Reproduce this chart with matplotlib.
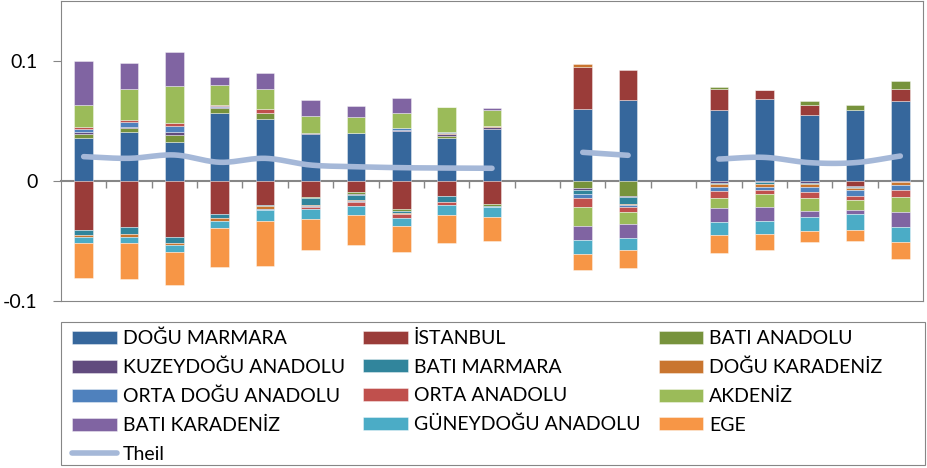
import numpy as np
import matplotlib
matplotlib.use("Agg")
import matplotlib.pyplot as plt
from matplotlib.lines import Line2D
from matplotlib.patches import Rectangle

plt.rcParams['font.family'] = ['Lato', 'DejaVu Sans']

categories = ["1", "2", "3", "4", "5", "6", "7", "8", "9", "10", "",
              "11", "12", "", "13", "14", "15", "16", "17"]

series_names = ["DOĞU MARMARA", "İSTANBUL", "BATI ANADOLU", "KUZEYDOĞU ANADOLU",
                "BATI MARMARA", "DOĞU KARADENİZ", "ORTA DOĞU ANADOLU", "ORTA ANADOLU",
                "AKDENİZ", "BATI KARADENİZ", "GÜNEYDOĞU ANADOLU", "EGE"]
series_colors = ["#36679C", "#9A3C39", "#77933C", "#614B7E", "#31859C", "#C9752F",
                 "#4F81BD", "#C0504D", "#9BBB59", "#8064A2", "#4BACC6", "#F79646"]

dogu_marmara = [0.0356, 0.0411, 0.0328, 0.0569, 0.0517, 0.0392, 0.0397, 0.0417, 0.0361, 0.0436, None,
                0.0597, 0.0675, None, 0.0592, 0.0680, 0.0547, 0.0589, 0.0669]
istanbul = [-0.0408, -0.0386, -0.0469, -0.0278, -0.0200, -0.0136, -0.0092, -0.0236, -0.0125, -0.0192, None,
            0.0350, 0.0250, None, 0.0175, 0.0078, 0.0089, -0.0039, 0.0094]
bati_anadolu = [0.0039, 0.0028, 0.0056, 0.0036, 0.0047, -0.0005, -0.0019, -0.0010, 0.0014, -0.0014, None,
                -0.0061, -0.0125, None, 0.0014, 0.0, 0.0028, 0.0047, 0.0072]
kuzeydogu_anadolu = [0.0014, 0.0010, 0.0022, 0.0010, 0.0005, 0.0006, -0.0003, 0.0011, 0.0017, 0.0010, None,
                     -0.0014, -0.0005, None, -0.0014, -0.0005, -0.0014, -0.0010, -0.0005]
bati_marmara = [-0.0042, -0.0056, -0.0044, -0.0033, -0.0005, -0.0056, -0.0042, -0.0020, -0.0047, -0.0008, None,
                -0.0030, -0.0061, None, -0.0014, -0.0019, -0.0010, -0.0008, -0.0005]
dogu_karadeniz = [-0.0019, -0.0025, -0.0019, -0.0022, -0.0030, -0.0010, -0.0010, -0.0005, 0.0009, 0.0010, None,
                  0.0028, -0.0008, None, -0.0025, -0.0022, -0.0028, -0.0018, -0.0025]
orta_dogu_anadolu = [0.0025, 0.0045, 0.0056, 0.0010, -0.0010, -0.0010, -0.0005, 0.0011, 0.0008, 0.0005, None,
                     -0.0035, -0.0015, None, -0.0033, -0.0028, -0.0042, -0.0047, -0.0036]
orta_anadolu = [0.0012, 0.0017, 0.0019, 0.0012, 0.0028, -0.0020, -0.0036, -0.0036, -0.0028, -0.0006, None,
                -0.0080, -0.0047, None, -0.0056, -0.0033, -0.0044, -0.0039, -0.0061]
akdeniz = [0.0189, 0.0256, 0.0311, 0.0167, 0.0167, 0.0144, 0.0133, 0.0131, 0.0211, 0.0128, None,
           -0.0158, -0.0100, None, -0.0083, -0.0106, -0.0108, -0.0083, -0.0128]
bati_karadeniz = [0.0367, 0.0217, 0.0283, 0.0064, 0.0139, 0.0133, 0.0097, 0.0119, 0.0, 0.0017, None,
                  -0.0111, -0.0111, None, -0.0114, -0.0122, -0.0050, -0.0030, -0.0122]
guneydogu_anadolu = [-0.0050, -0.0053, -0.0056, -0.0061, -0.0092, -0.0078, -0.0078, -0.0072, -0.0083, -0.0083, None,
                     -0.0117, -0.0106, None, -0.0111, -0.0106, -0.0117, -0.0133, -0.0125]
ege = [-0.0286, -0.0294, -0.0278, -0.0319, -0.0375, -0.0256, -0.0250, -0.0211, -0.0236, -0.0200, None,
       -0.0136, -0.0144, None, -0.0153, -0.0133, -0.0097, -0.0092, -0.0139]
theil = [0.0203, 0.0189, 0.0217, 0.0156, 0.0189, 0.0133, 0.0119, 0.0111, 0.0108, 0.0106, None,
         0.0239, 0.0214, None, 0.0183, 0.0197, 0.0153, 0.0153, 0.0208]

y_ticks = [-0.1, 0, 0.1]
y_tick_labels = ["-0.1", "0", "0.1"]

all_series = [dogu_marmara, istanbul, bati_anadolu, kuzeydogu_anadolu, bati_marmara,
              dogu_karadeniz, orta_dogu_anadolu, orta_anadolu, akdeniz, bati_karadeniz,
              guneydogu_anadolu, ege]


def to_arr(vals):
    return np.array([np.nan if v is None else v for v in vals], dtype=float)


def smooth_curve(xs, ys, n=24):
    """Bezier smoothing through the points (Catmull-Rom style tangents)."""
    xs = np.asarray(xs, float)
    ys = np.asarray(ys, float)
    if len(xs) < 3:
        return xs, ys
    px = np.concatenate([[2 * xs[0] - xs[1]], xs, [2 * xs[-1] - xs[-2]]])
    py = np.concatenate([[2 * ys[0] - ys[1]], ys, [2 * ys[-1] - ys[-2]]])
    ox, oy = [], []
    t = np.linspace(0, 1, n)
    for i in range(1, len(px) - 2):
        p0, p1, p2, p3 = (np.array([px[j], py[j]]) for j in (i - 1, i, i + 1, i + 2))
        c1 = p1 + (p2 - p0) / 6
        c2 = p2 - (p3 - p1) / 6
        b = ((1 - t) ** 3)[:, None] * p1 + (3 * (1 - t) ** 2 * t)[:, None] * c1 + \
            (3 * (1 - t) * t ** 2)[:, None] * c2 + (t ** 3)[:, None] * p2
        ox.extend(b[:, 0]); oy.extend(b[:, 1])
    return np.array(ox), np.array(oy)


W, H = 927, 468
fig = plt.figure(figsize=(W / 100, H / 100), dpi=100)
ax = fig.add_axes([61 / W, 1 - 301 / H, 862 / W, 300 / H])

x = np.arange(len(categories))
pos_cum = np.zeros(len(categories))
neg_cum = np.zeros(len(categories))
handles = []
for name, vals, col in zip(series_names, all_series, series_colors):
    v = to_arr(vals)
    valid = ~np.isnan(v)
    vv = np.nan_to_num(v)
    bottoms = np.where(vv >= 0, pos_cum, neg_cum)
    bars = ax.bar(x[valid], vv[valid], width=0.41, bottom=bottoms[valid], color=col,
                  edgecolor=(1, 1, 1, 0.45), linewidth=0.6, label=name, zorder=2)
    handles.append(bars)
    pos_cum += np.where(vv > 0, vv, 0)
    neg_cum += np.where(vv < 0, vv, 0)

# Theil line (smoothed, broken at empty categories)
t = to_arr(theil)
theil_color = "#A5B8D8"
seg_x, seg_y = [], []
for xi, ti in zip(list(x) + [None], list(t) + [np.nan]):
    if xi is not None and not np.isnan(ti):
        seg_x.append(xi); seg_y.append(ti)
    else:
        if seg_x:
            sx, sy = smooth_curve(seg_x, seg_y)
            ax.plot(sx, sy, color=theil_color, lw=4.0, solid_capstyle='round', zorder=3)
        seg_x, seg_y = [], []
theil_handle = Line2D([], [], color=theil_color, lw=4.0, solid_capstyle='round')

ax.set_xlim(-0.5, len(categories) - 0.5)
ax.set_ylim(-0.1, 0.15)
ax.set_yticks(y_ticks)
ax.set_yticklabels(y_tick_labels, fontsize=14)
ax.tick_params(axis='y', direction='out', length=6, width=0.8, color='#868686', pad=11)
ax.tick_params(axis='x', bottom=False, labelbottom=False)
for sp in ax.spines.values():
    sp.set_color('#868686')
    sp.set_linewidth(0.8)

# category axis at zero with ticks between categories
sec = ax.secondary_xaxis(0.4)
sec.set_xticks(np.arange(len(categories) - 1) + 0.5)
sec.tick_params(axis='x', direction='out', length=5, width=1.0, color='#868686',
                labelbottom=False, labeltop=False)
sec.spines['bottom'].set_color('#868686')
sec.spines['bottom'].set_linewidth(1.5)
sec.spines['top'].set_visible(False)

# legend box border
fig.patches.append(Rectangle((61 / W, 1 - 465 / H), 864 / W, 143 / H, transform=fig.transFigure,
                             fill=False, edgecolor='#868686', linewidth=0.8))

# legend in row-major order like the original (3 columns)
all_h = handles + [theil_handle]
all_l = series_names + ["Theil"]
order = [0, 3, 6, 9, 12, 1, 4, 7, 10, 2, 5, 8, 11]
leg = fig.legend([all_h[i] for i in order], [all_l[i] for i in order], ncol=3,
                 loc='upper left', bbox_to_anchor=(72 / W, 1 - 329.5 / H),
                 fontsize=14, frameon=False, handlelength=2.3, handleheight=0.65,
                 handletextpad=0.3, labelspacing=0.6, columnspacing=0.95,
                 borderpad=0, borderaxespad=0)

fig.savefig("out.png", dpi=100)
